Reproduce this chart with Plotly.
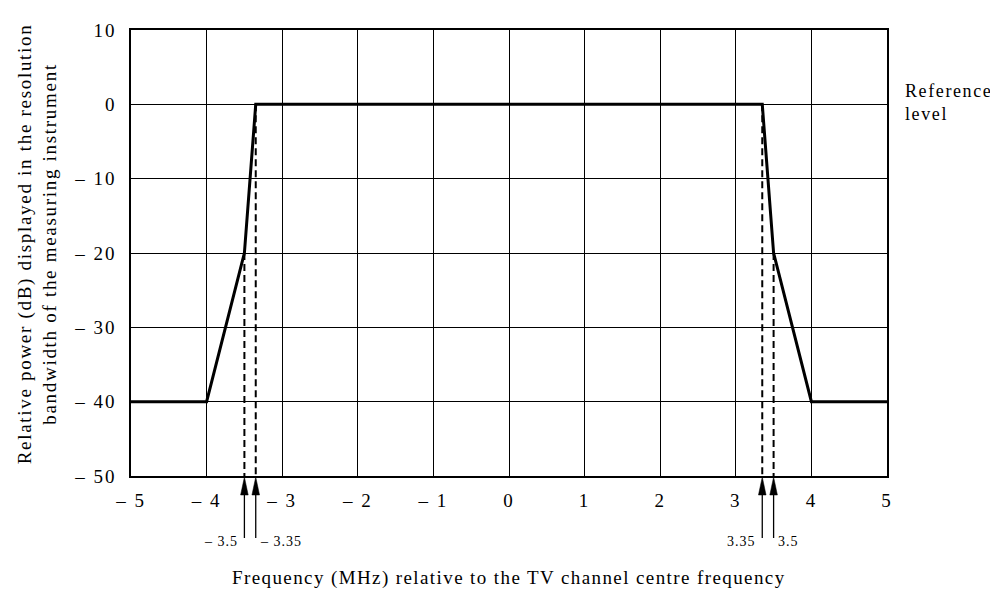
import plotly.graph_objects as go

# Mask curve (frequency MHz, relative power dB)
freq = [-5, -4, -3.5, -3.35, 3.35, 3.5, 4, 5]
power = [-40, -40, -20, 0, 0, -20, -40, -40]

# Marked breakpoints (dashed verticals + arrows)
mark_x = [-3.5, -3.35, 3.35, 3.5]
mark_y = [-20, 0, 0, -20]
mark_labels = ["– 3.5", "– 3.35", "3.35", "3.5"]

x_ticks = [-5, -4, -3, -2, -1, 0, 1, 2, 3, 4, 5]
x_ticktext = ["– 5", "– 4", "– 3", "– 2", "– 1", "0", "1", "2", "3", "4", "5"]
y_ticks = [10, 0, -10, -20, -30, -40, -50]
y_ticktext = ["10", "0", "– 10", "– 20", "– 30", "– 40", "– 50"]

FONT = "Liberation Serif, Times New Roman, serif"


def sp(t, ls):
    return '<span style="letter-spacing:%spx">%s</span>' % (ls, t)


fig = go.Figure()

# dashed verticals
dx, dy = [], []
for x, y in zip(mark_x, mark_y):
    dx += [x, x, None]
    dy += [y, -50, None]
fig.add_trace(go.Scatter(x=dx, y=dy, mode="lines",
                         line=dict(color="black", width=2, dash="7px,4px"),
                         hoverinfo="skip", showlegend=False))

fig.add_trace(go.Scatter(x=freq, y=power, mode="lines",
                         line=dict(color="black", width=3),
                         showlegend=False))

shapes = []
annotations = []
for x, lab in zip(mark_x, mark_labels):
    # arrow stem (pixel offsets below the x axis)
    shapes.append(dict(type="line", xref="x", yref="paper",
                       xsizemode="pixel", ysizemode="pixel",
                       xanchor=x, yanchor=0,
                       x0=0, x1=0, y0=-10, y1=-62,
                       line=dict(color="black", width=1.3)))
    # narrow filled arrow head
    shapes.append(dict(type="path", xref="x", yref="paper",
                       xsizemode="pixel", ysizemode="pixel",
                       xanchor=x, yanchor=0,
                       path="M0,-1 L-3.8,-19 L3.8,-19 Z",
                       fillcolor="black", line=dict(color="black", width=0.5)))
    left = (x < -3.4) or (0 < x < 3.4)
    annotations.append(dict(x=x, y=-50, xref="x", yref="y", text=sp(lab, 1),
                            showarrow=False,
                            xanchor="right" if left else "left",
                            xshift=-4 if left else 2,
                            yshift=-65,
                            font=dict(family=FONT, size=14, color="black")))

annotations.append(dict(x=1.021, y=0, xref="paper", yref="y",
                        text=sp("Reference", 1.6) + "<br>" + sp("level", 1.6),
                        showarrow=False, yshift=2,
                        xanchor="left", yanchor="middle", align="left",
                        font=dict(family=FONT, size=18, color="black")))
annotations.append(dict(x=-0.124, y=0.52, xref="paper", yref="paper",
                        text=sp("Relative power (dB) displayed in the resolution", 1.7)
                        + "<br>" + sp("bandwidth of the measuring instrument", 1.7),
                        textangle=-90, showarrow=False,
                        xanchor="center", yanchor="middle",
                        font=dict(family=FONT, size=19, color="black")))
annotations.append(dict(x=0.5, y=-0.2296, xref="paper", yref="paper",
                        text=sp("Frequency (MHz) relative to the TV channel centre frequency", 1.4),
                        showarrow=False, xanchor="center", yanchor="middle",
                        font=dict(family=FONT, size=19, color="black")))

fig.update_layout(
    width=998, height=594,
    margin=dict(l=123, r=119, t=15, b=126),
    paper_bgcolor="white", plot_bgcolor="white",
    annotations=annotations, shapes=shapes,
    font=dict(family=FONT, size=19, color="black"),
)
fig.update_xaxes(range=[-5, 5], tickvals=x_ticks,
                 ticktext=[sp(t, 2) for t in x_ticktext],
                 showgrid=True, gridcolor="black", gridwidth=1,
                 zeroline=False, showline=True, linecolor="black",
                 linewidth=1.5, mirror=True, ticks="", ticklabelstandoff=6)
fig.update_yaxes(range=[-50, 10], tickvals=y_ticks,
                 ticktext=[sp(t, 2) for t in y_ticktext],
                 showgrid=True, gridcolor="black", gridwidth=1,
                 zeroline=False, showline=True, linecolor="black",
                 linewidth=1.5, mirror=True, ticks="", ticklabelstandoff=9)

fig.write_html("out.html")
